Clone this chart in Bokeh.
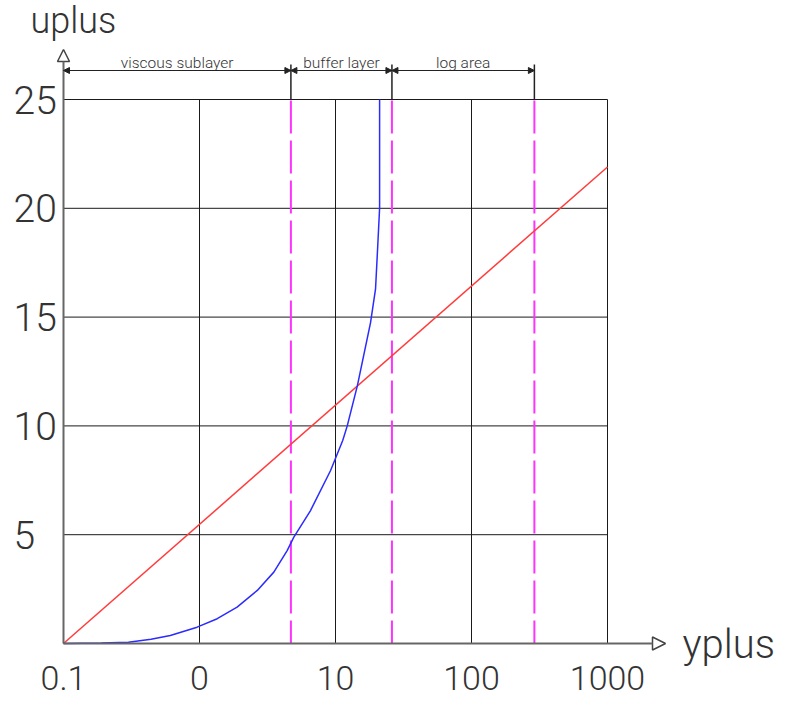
from bokeh.plotting import figure
from bokeh.models import Range1d, Arrow, NormalHead
from bokeh.core.properties import value
from bokeh.embed import file_html
from bokeh.resources import INLINE
import math

# ---- data ----
yplus_blue = [0.1, 0.19, 0.3, 0.44, 0.61, 0.96, 1.35, 1.89, 2.66, 3.52, 4.41, 4.94,
              6.55, 9.2, 11.3, 12.2, 14.5, 18.1, 19.7, 20.4, 21.1, 21.1]
uplus_blue = [0.0, 0.02, 0.06, 0.2, 0.37, 0.75, 1.14, 1.67, 2.44, 3.28, 4.27, 4.89,
              6.11, 7.95, 9.33, 10.0, 11.86, 14.75, 16.3, 18.15, 20.0, 25.0]
yplus_red = [0.1, 1000]
uplus_red = [0.0, 21.9]

region_bounds = [0.1, 4.7, 26, 290]
region_names = ["viscous sublayer", "buffer layer", "log area"]
dashed_x = [4.7, 26, 290]

xtick_vals = [0.1, 1, 10, 100, 1000]
xtick_labels = ["0.1", "0", "10", "100", "1000"]
ytick_vals = [5, 10, 15, 20, 25]
ytick_labels = ["5", "10", "15", "20", "25"]
xgrid_vals = [1, 10, 100, 1000]
ygrid_vals = [5, 10, 15, 20, 25]
x_min, x_max = 0.1, 1000
u_min, u_max = 0, 25

# ---- layout / styling ----
W, H = 800, 702
LEFT, TOP, SIZE = 63, 99, 544           # plot box in page pixels
DEC = SIZE / math.log10(x_max / x_min)  # pixels per decade
UPX = SIZE / (u_max - u_min)            # pixels per u+ unit

def xpx(px):  # x data value at page pixel column
    return x_min * 10 ** ((px - LEFT) / DEC)

def upx_(py):  # u+ value at page pixel row
    return u_min + (TOP + SIZE - py) / UPX

FONT = value("Roboto Light")
TXT = "#333333"

p = figure(width=W, height=H, x_axis_type="log",
           x_range=Range1d(xpx(0), xpx(W)), y_range=Range1d(upx_(H), upx_(0)),
           x_axis_location=None, y_axis_location=None,
           min_border_left=0, min_border_right=0, min_border_top=0, min_border_bottom=0,
           toolbar_location=None, output_backend="svg")
p.outline_line_color = None
p.background_fill_color = "white"
p.border_fill_color = "white"
p.xgrid.visible = False
p.ygrid.visible = False

GRID = "#1a1a1a"
# grid (including top and right edges of the plot box)
p.segment(x0=xgrid_vals, y0=[u_min] * len(xgrid_vals), x1=xgrid_vals, y1=[u_max] * len(xgrid_vals),
          line_color=GRID, line_width=1)
p.segment(x0=[x_min] * len(ygrid_vals), y0=ygrid_vals, x1=[x_max] * len(ygrid_vals), y1=ygrid_vals,
          line_color=GRID, line_width=1)

# dashed region boundaries
p.segment(x0=dashed_x, y0=[u_min] * len(dashed_x), x1=dashed_x, y1=[u_max] * len(dashed_x),
          line_color="#ff33ff", line_width=2, line_dash="33 7", line_dash_offset=10)

# curves
p.line(yplus_red, uplus_red, line_color="#ff3b3b", line_width=1.5)
p.line(yplus_blue, uplus_blue, line_color="#2b2bff", line_width=1.5)

# axes with open arrow heads
p.add_layout(Arrow(x_start=x_min, y_start=u_min, x_end=x_min, y_end=upx_(49),
                   line_color="#666666", line_width=2,
                   end=NormalHead(size=12, fill_color="white", line_color="#444444", line_width=1.5)))
p.add_layout(Arrow(x_start=x_min, y_start=u_min, x_end=xpx(665), y_end=u_min,
                   line_color="#666666", line_width=2,
                   end=NormalHead(size=13, fill_color="white", line_color="#444444", line_width=1.5)))

# dimension lines above the plot
dim_u = upx_(70)
for b in region_bounds[1:]:
    p.add_layout(Arrow(x_start=b, y_start=u_max, x_end=b, y_end=upx_(64), end=None,
                       line_color="#222222", line_width=1.5))
for a, b in zip(region_bounds[:-1], region_bounds[1:]):
    p.add_layout(Arrow(x_start=a, y_start=dim_u, x_end=b, y_end=dim_u,
                       line_color="#222222", line_width=1.2,
                       start=NormalHead(size=6, fill_color="#222222", line_color="#222222", line_width=1),
                       end=NormalHead(size=6, fill_color="#222222", line_color="#222222", line_width=1)))
mids = [math.sqrt(a * b) for a, b in zip(region_bounds[:-1], region_bounds[1:])]
p.text(x=mids, y=[dim_u] * len(mids), text=region_names, y_offset=-8,
       text_align="center", text_baseline="middle",
       text_font=FONT, text_font_size="15.5px", text_color=TXT)

# tick labels
p.text(x=xtick_vals, y=[u_min] * len(xtick_vals), text=xtick_labels, y_offset=34,
       text_align="center", text_baseline="middle",
       text_font=FONT, text_font_size="34px", text_color=TXT)
p.text(x=[x_min] * len(ytick_vals), y=ytick_vals, text=ytick_labels, x_offset=-50,
       text_align="left", text_baseline="middle",
       text_font=FONT, text_font_size="39px", text_color=TXT)

# axis titles
p.text(x=[x_min], y=[u_max], text=["uplus"], x_offset=-33, y_offset=-79,
       text_align="left", text_baseline="middle",
       text_font=FONT, text_font_size="36px", text_color=TXT)
p.text(x=[x_max], y=[u_min], text=["yplus"], x_offset=75, y_offset=1,
       text_align="left", text_baseline="middle",
       text_font=FONT, text_font_size="40px", text_color=TXT)

open("out.html", "w").write(file_html(p, INLINE))
